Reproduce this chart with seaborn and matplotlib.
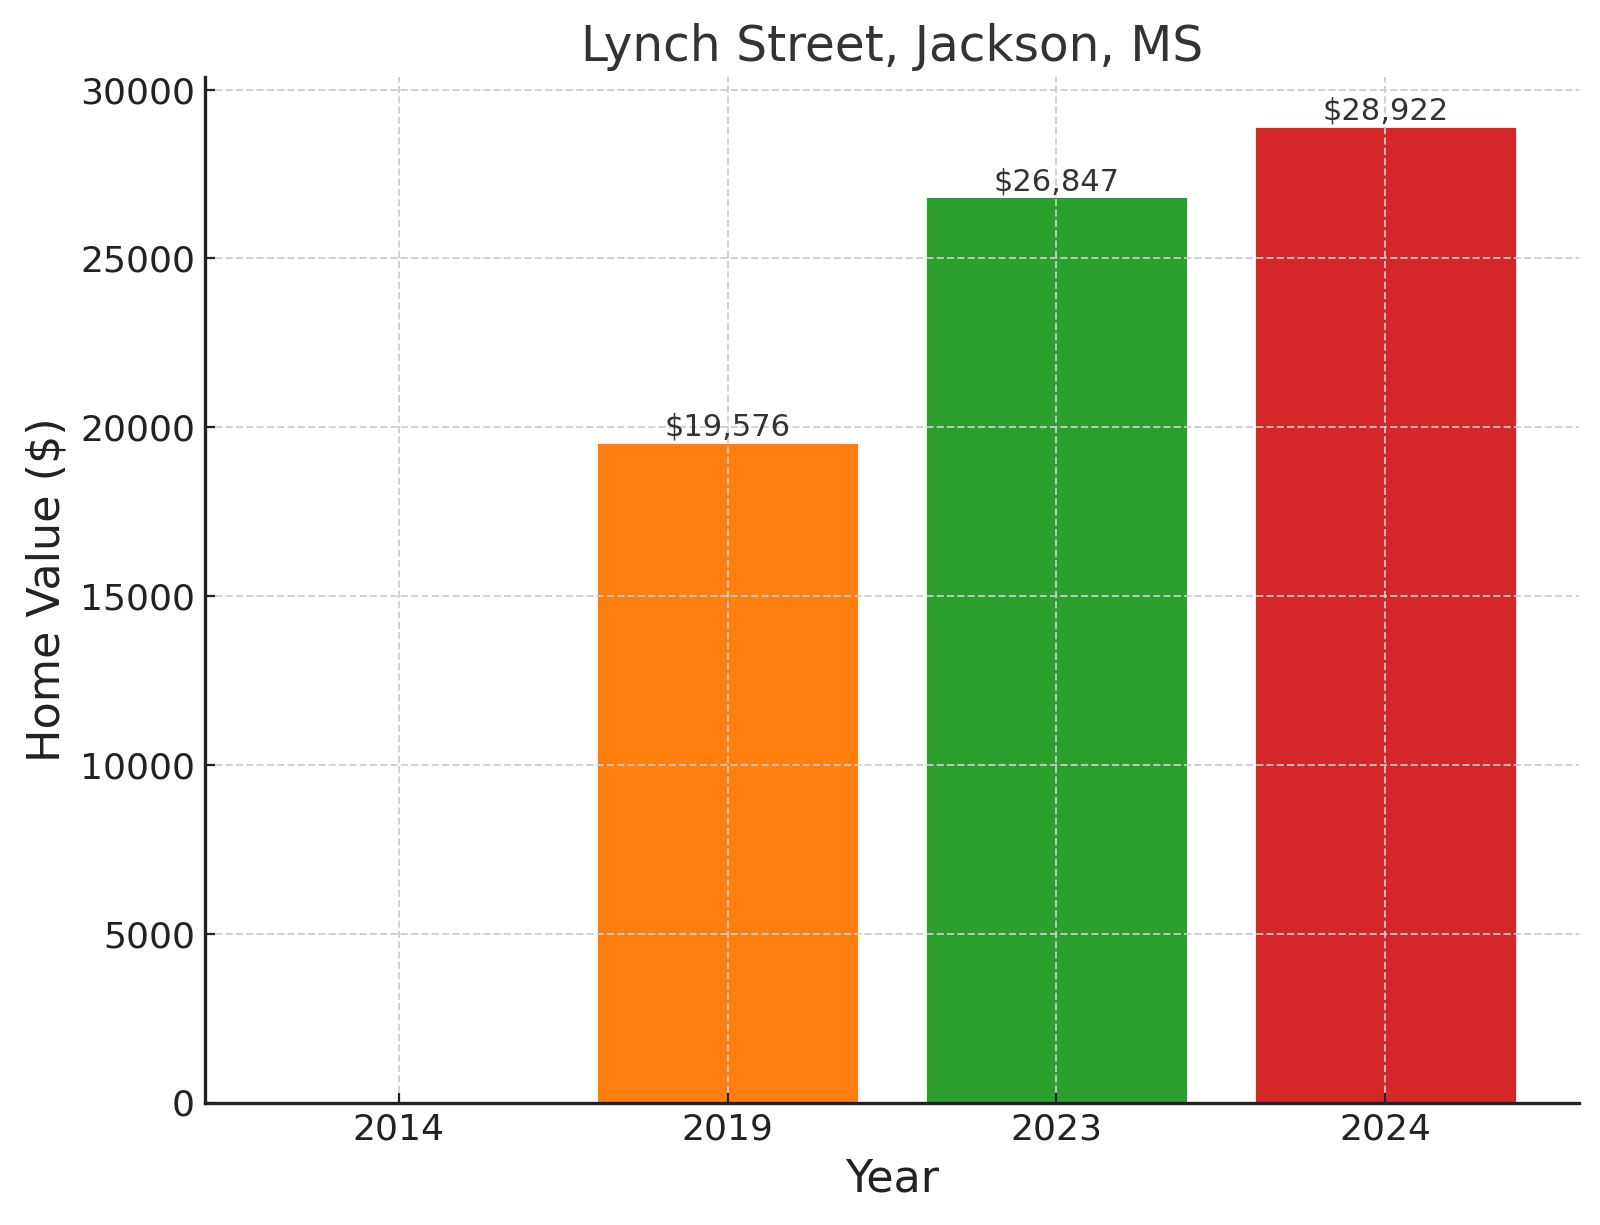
import numpy as np
import pandas as pd
import matplotlib
matplotlib.use("Agg")
import matplotlib.pyplot as plt
import seaborn as sns

years = ["2014", "2019", "2023", "2024"]
values = [np.nan, 19576, 26847, 28922]
colors = ["#1f77b4", "#ff7f0e", "#2ca02c", "#d62728"]

sns.set_style("ticks")
plt.rcParams["font.family"] = ["DejaVu Sans"]

df = pd.DataFrame({"Year": years, "Value": values})

fig, ax = plt.subplots(figsize=(8, 6.125), dpi=200)
fig.subplots_adjust(left=0.128, right=0.987, top=0.937, bottom=0.10)

sns.barplot(data=df, x="Year", y="Value", hue="Year", order=years, hue_order=years,
            palette=colors, width=0.8, saturation=1, legend=False, ax=ax)

ax.set_xlim(-0.59, 3.59)
for i, v in enumerate(values):
    if not np.isnan(v):
        ax.text(i, v, f"${v:,.0f}", ha="center", va="bottom", fontsize=11, color="#333333")

ax.set_title("Lynch Street, Jackson, MS", fontsize=17.5, color="#333333")
ax.set_xlabel("Year", fontsize=16, color="#222222")
ax.set_ylabel("Home Value ($)", fontsize=16, color="#222222")
ax.tick_params(axis="both", labelsize=13, direction="in", colors="#222222", labelcolor="#222222")
ax.grid(True, linestyle="--", color="#cccccc", linewidth=0.7, alpha=0.9)
ax.set_axisbelow(False)
sns.despine(ax=ax)
for s in ["left", "bottom"]:
    ax.spines[s].set_color("#222222")
    ax.spines[s].set_linewidth(1.2)
    ax.spines[s].set_zorder(5)

fig.savefig("out.png", dpi=200)
